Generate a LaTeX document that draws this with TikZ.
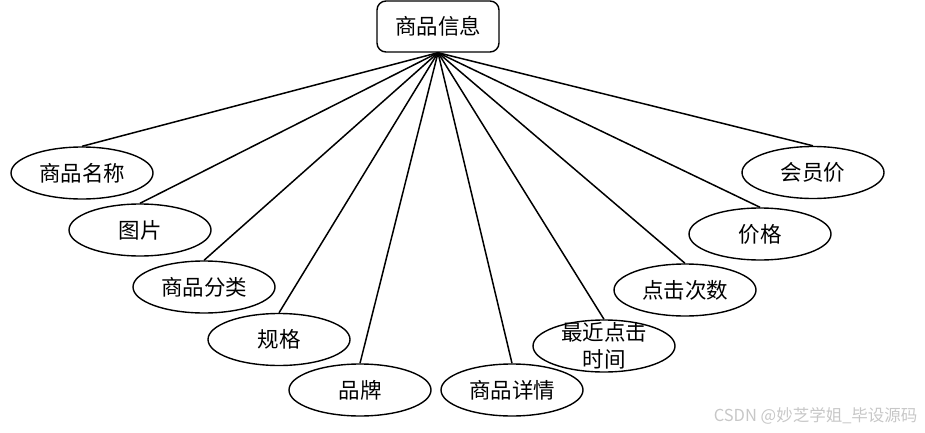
\documentclass[tikz,border=0pt]{standalone}
\usepackage{fontspec}
\newfontfamily\cjk{Noto Sans CJK SC}
\usetikzlibrary{shapes.geometric, positioning}

\begin{document}
\begin{tikzpicture}[x=1pt, y=-1pt, font=\cjk\fontsize{21.5}{27}\selectfont]
	\tikzset{entity/.style={draw, rounded corners=9pt, line width=1.4pt, minimum width=122, minimum height=51, inner sep=0pt},
		attr/.style={draw, ellipse, line width=1.4pt, minimum width=142, minimum height=52, inner sep=0pt},
		link/.style={line width=1.5pt}}
	\useasboundingbox (0,0) rectangle (925,433);

		% nodes - entity and its attributes %
		\node[entity] (info) at (438,26.5) {商品信息};
		\node[attr] (name) at (82,173) {商品名称};
		\node[attr] (pic) at (140,230) {图片};
		\node[attr] (cat) at (204,287) {商品分类};
		\node[attr] (spec) at (279,339.5) {规格};
		\node[attr] (brand) at (360,390) {品牌};
		\node[attr] (detail) at (512,390) {商品详情};
		\node[attr] (time) at (604,346) {};
		\node[align=center, inner sep=0pt] (timetext) at (time) {最近点击\\时间};
		\node[attr] (clicks) at (685,290) {点击次数};
		\node[attr] (price) at (760,234) {价格};
		\node[attr] (vip) at (813,172.5) {会员价};

		% edges %
		\draw[link] (info.south) -- (name.north);
		\draw[link] (info.south) -- (pic.north);
		\draw[link] (info.south) -- (cat.north);
		\draw[link] (info.south) -- (spec.north);
		\draw[link] (info.south) -- (brand.north);
		\draw[link] (info.south) -- (detail.north);
		\draw[link] (info.south) -- (time.north);
		\draw[link] (info.south) -- (clicks.north);
		\draw[link] (info.south) -- (price.north);
		\draw[link] (info.south) -- (vip.north);

		% watermark %
		\node[anchor=east, text=black!22, font=\cjk\fontsize{16.5}{19}\selectfont] (mark) at (921,416) {CSDN @妙芝学姐\_毕设源码};

\end{tikzpicture}
\end{document}
